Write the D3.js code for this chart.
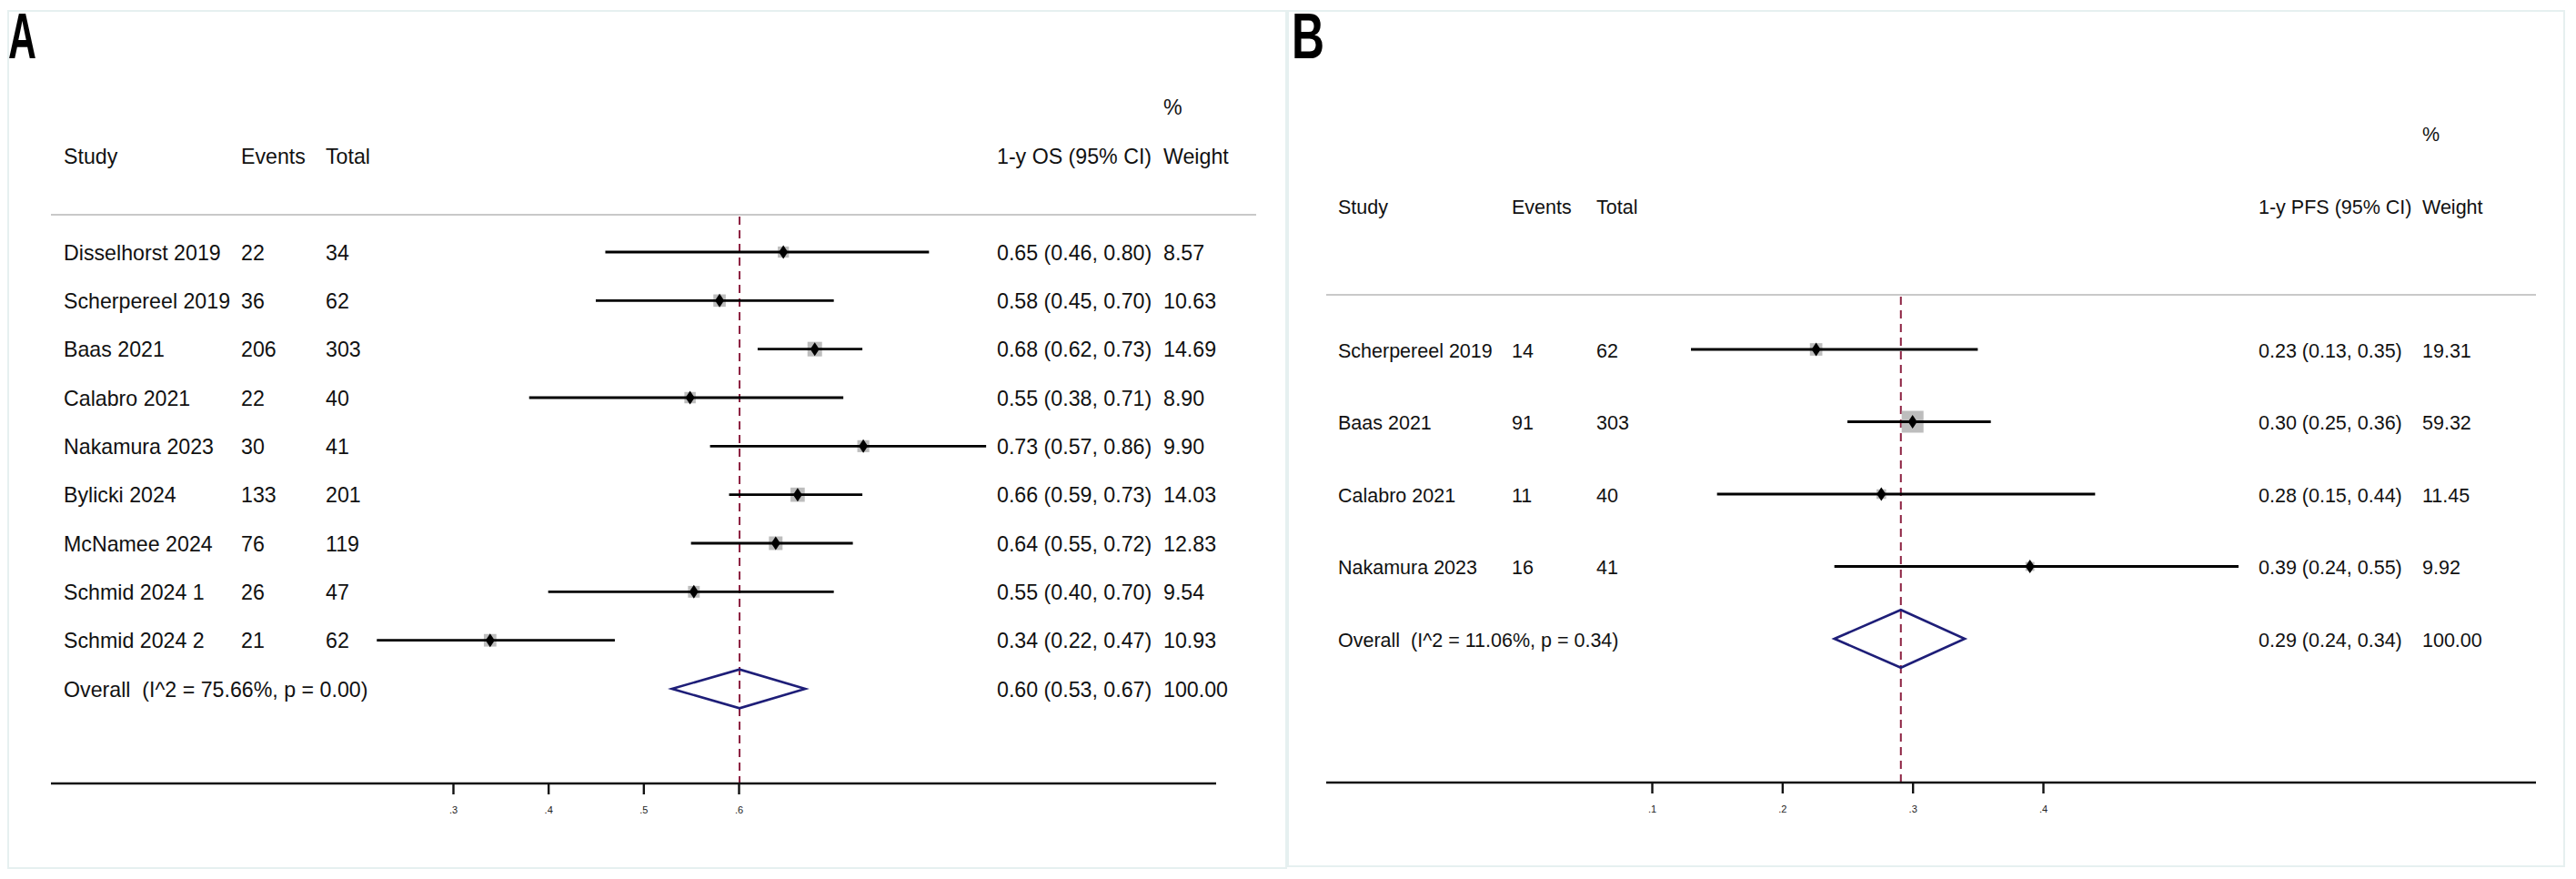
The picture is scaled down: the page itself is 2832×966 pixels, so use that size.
<!DOCTYPE html>
<html>
<head>
<meta charset="utf-8">
<script src="https://cdn.jsdelivr.net/npm/d3@7"></script>
<style>
  body { margin: 0; background: #fff; }
  text { font-family: "Liberation Sans", Arial, sans-serif; white-space: pre; }
</style>
</head>
<body>
<svg id="chart" width="2832" height="966"></svg>
<script>
// ---- panel A : 1-y OS ----
const studiesA = ["Disselhorst 2019", "Scherpereel 2019", "Baas 2021", "Calabro 2021", "Nakamura 2023",
                  "Bylicki 2024", "McNamee 2024", "Schmid 2024 1", "Schmid 2024 2"];
const eventsA = [22, 36, 206, 22, 30, 133, 76, 26, 21];
const totalA = [34, 62, 303, 40, 41, 201, 119, 47, 62];
const estA = [0.647, 0.58, 0.68, 0.549, 0.731, 0.662, 0.639, 0.553, 0.339];
const loA = [0.46, 0.45, 0.62, 0.38, 0.57, 0.59, 0.55, 0.40, 0.22];
const hiA = [0.80, 0.70, 0.73, 0.71, 0.86, 0.73, 0.72, 0.70, 0.47];
const weightA = [8.57, 10.63, 14.69, 8.90, 9.90, 14.03, 12.83, 9.54, 10.93];
const overallA = { est: 0.601, lo: 0.53, hi: 0.67, weight: 100, label: "Overall  (I^2 = 75.66%, p = 0.00)" };
const ticksA = [0.3, 0.4, 0.5, 0.6];

// ---- panel B : 1-y PFS ----
const studiesB = ["Scherpereel 2019", "Baas 2021", "Calabro 2021", "Nakamura 2023"];
const eventsB = [14, 91, 11, 16];
const totalB = [62, 303, 40, 41];
const estB = [0.226, 0.30, 0.276, 0.39];
const loB = [0.13, 0.25, 0.15, 0.24];
const hiB = [0.35, 0.36, 0.44, 0.55];
const weightB = [19.31, 59.32, 11.45, 9.92];
const overallB = { est: 0.291, lo: 0.24, hi: 0.34, weight: 100, label: "Overall  (I^2 = 11.06%, p = 0.34)" };
const ticksB = [0.1, 0.2, 0.3, 0.4];

const svg = d3.select("#chart");
const f2 = d3.format(".2f");

function drawPanel(p) {
    const g = svg.append("g");
    const FS = p.fs;

    // light frame
    g.append("rect").attr("x", p.frame[0]).attr("y", p.frame[1])
        .attr("width", p.frame[2]).attr("height", p.frame[3])
        .attr("fill", "none").attr("stroke", "#e6f0f0").attr("stroke-width", 2);

    // panel letter
    g.append("text").attr("x", p.letterX).attr("y", 64)
        .attr("font-size", 71).attr("font-weight", "bold")
        .attr("textLength", p.letterW).attr("lengthAdjust", "spacingAndGlyphs")
        .text(p.letter);

    // x scale calibrated on two ticks, then stretched over the full axis line
    const x = d3.scaleLinear().domain([p.ticks[0], p.ticks[3]]).range([p.tickPx[0], p.tickPx[1]]);
    x.domain([x.invert(p.axisX[0]), x.invert(p.axisX[1])]).range(p.axisX);

    const n = p.studies.length;
    const y = d3.scaleLinear().domain([0, n]).range(p.rowY);
    const side = d3.scaleSqrt().domain([0, d3.max(p.weight)]).range([0, p.maxBox]);

    // headers
    const hdr = g.append("g").attr("font-size", FS).attr("fill", "#111");
    hdr.append("text").attr("x", p.colX[0]).attr("y", p.headY).text("Study");
    hdr.append("text").attr("x", p.colX[1]).attr("y", p.headY).text("Events");
    hdr.append("text").attr("x", p.colX[2]).attr("y", p.headY).text("Total");
    hdr.append("text").attr("x", p.colX[3]).attr("y", p.headY).text(p.estTitle);
    hdr.append("text").attr("x", p.colX[4]).attr("y", p.headY).text("Weight");
    hdr.append("text").attr("x", p.colX[4]).attr("y", p.pctY).text("%");

    // grey separator
    g.append("line").attr("x1", p.axisX[0]).attr("x2", p.sepRight)
        .attr("y1", p.sepY).attr("y2", p.sepY)
        .attr("stroke", "#c9c9c9").attr("stroke-width", 2);

    // overall dashed line
    g.append("line").attr("x1", x(p.overall.est)).attr("x2", x(p.overall.est))
        .attr("y1", p.sepY + 2).attr("y2", p.axisY)
        .attr("stroke", "#8c2040").attr("stroke-width", 2).attr("stroke-dasharray", "9,6");

    const rows = p.studies.map((s, i) => ({
        s, ev: p.events[i], tot: p.total[i], est: p.est[i], lo: p.lo[i], hi: p.hi[i], w: p.weight[i], i
    }));

    // weight boxes
    g.selectAll(".box").data(rows).enter().append("rect")
        .attr("x", d => x(d.est) - side(d.w) / 2)
        .attr("y", d => y(d.i) - side(d.w) / 2)
        .attr("width", d => side(d.w)).attr("height", d => side(d.w))
        .attr("fill", "#bdbdbd");

    // CI lines
    g.selectAll(".ci").data(rows).enter().append("line")
        .attr("x1", d => x(d.lo)).attr("x2", d => x(d.hi))
        .attr("y1", d => y(d.i)).attr("y2", d => y(d.i))
        .attr("stroke", "#000").attr("stroke-width", 2.8);

    // point estimates
    g.selectAll(".pt").data(rows).enter().append("path")
        .attr("d", d => `M${x(d.est)},${y(d.i) - 7.5}L${x(d.est) + 5},${y(d.i)}L${x(d.est)},${y(d.i) + 7.5}L${x(d.est) - 5},${y(d.i)}Z`)
        .attr("fill", "#000");

    // overall diamond
    const o = p.overall, oy = y(n), dh = (y(1) - y(0)) * 0.4;
    g.append("path")
        .attr("d", `M${x(o.lo)},${oy}L${x(o.est)},${oy - dh}L${x(o.hi)},${oy}L${x(o.est)},${oy + dh}Z`)
        .attr("fill", "none").attr("stroke", "#1e1e78").attr("stroke-width", 2.6);

    // text columns
    const tx = g.append("g").attr("font-size", FS).attr("fill", "#111");
    const base = 8.5;
    rows.forEach(d => {
        tx.append("text").attr("x", p.colX[0]).attr("y", y(d.i) + base).text(d.s);
        tx.append("text").attr("x", p.colX[1]).attr("y", y(d.i) + base).text(d.ev);
        tx.append("text").attr("x", p.colX[2]).attr("y", y(d.i) + base).text(d.tot);
        tx.append("text").attr("x", p.colX[3]).attr("y", y(d.i) + base)
            .text(`${f2(d.est)} (${f2(d.lo)}, ${f2(d.hi)})`);
        tx.append("text").attr("x", p.colX[4]).attr("y", y(d.i) + base).text(f2(d.w));
    });
    tx.append("text").attr("x", p.colX[0]).attr("y", oy + base).text(o.label);
    tx.append("text").attr("x", p.colX[3]).attr("y", oy + base)
        .text(`${f2(o.est)} (${f2(o.lo)}, ${f2(o.hi)})`);
    tx.append("text").attr("x", p.colX[4]).attr("y", oy + base).text(f2(o.weight));

    // x axis (drawn over its own full-width line)
    const ax = g.append("g").attr("transform", `translate(0,${p.axisY})`)
        .call(d3.axisBottom(x).tickValues(p.ticks).tickSize(12).tickSizeOuter(0)
            .tickFormat(d => String(d).replace(/^0/, "")));
    ax.select(".domain").remove();
    ax.append("line").attr("x1", p.axisX[0]).attr("x2", p.axisRight)
        .attr("stroke", "#111").attr("stroke-width", 2.6);
    ax.selectAll(".tick line").attr("stroke", "#111").attr("stroke-width", 2.4);
    ax.selectAll(".tick text").attr("font-size", 11).attr("fill", "#222").attr("y", 25)
        .attr("font-family", "Liberation Sans, Arial, sans-serif");
}

drawPanel({
    letter: "A", letterX: 9, letterW: 31, fs: 23.2,
    frame: [9, 12, 1405, 942],
    studies: studiesA, events: eventsA, total: totalA, est: estA, lo: loA, hi: hiA, weight: weightA,
    overall: overallA, ticks: ticksA, tickPx: [498, 812],
    estTitle: "1-y OS (95% CI)",
    colX: [70, 265, 358, 1096, 1279], headY: 180, pctY: 126,
    sepY: 236, sepRight: 1381, axisX: [56, 1381], axisRight: 1337, axisY: 861,
    rowY: [277, 757], maxBox: 16
});

drawPanel({
    letter: "B", letterX: 1420, letterW: 36, fs: 21.5,
    frame: [1416, 12, 1403, 940],
    studies: studiesB, events: eventsB, total: totalB, est: estB, lo: loB, hi: hiB, weight: weightB,
    overall: overallB, ticks: ticksB, tickPx: [1816, 2246],
    estTitle: "1-y PFS (95% CI)",
    colX: [1471, 1662, 1755, 2483, 2663], headY: 235, pctY: 155,
    sepY: 324, sepRight: 2788, axisX: [1458, 2788], axisRight: 2788, axisY: 860,
    rowY: [384, 702], maxBox: 24
});
</script>
</body>
</html>
